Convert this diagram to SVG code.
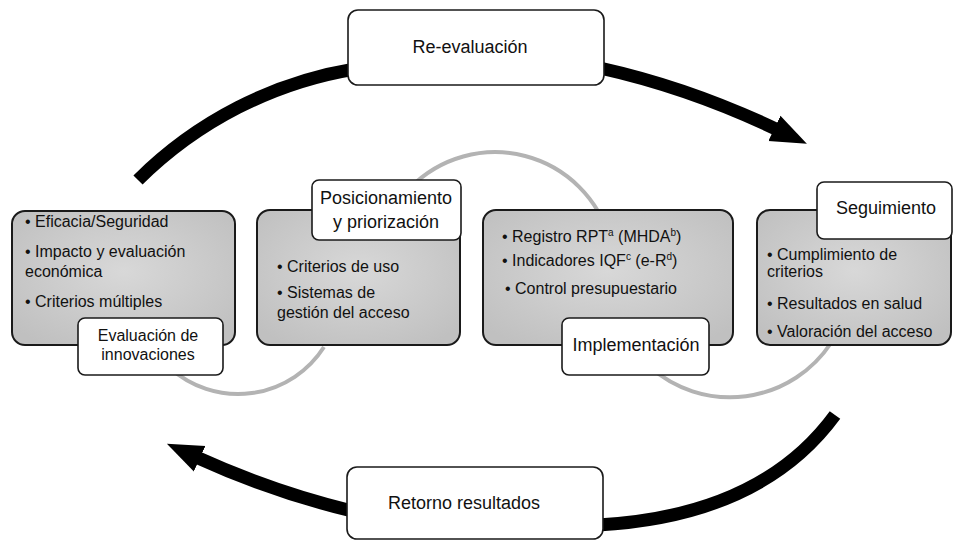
<svg xmlns="http://www.w3.org/2000/svg" width="959" height="541" viewBox="0 0 959 541">
<defs>
<radialGradient id="gfill" cx="50%" cy="45%" r="65%">
<stop offset="0" stop-color="#d8d8d8"/>
<stop offset="1" stop-color="#c0c0c0"/>
</radialGradient>
<marker id="ah" markerUnits="userSpaceOnUse" markerWidth="38" markerHeight="32" refX="4" refY="16" orient="auto" viewBox="0 0 38 32">
<path d="M0,2 L36,16 L0,30 Z" fill="#000"/>
</marker>
<style>
text{font-family:"Liberation Sans",Arial,sans-serif;fill:#111}
.bul{font-size:16px}
.lab{font-size:18px;text-anchor:middle}
.lab16{font-size:16px;text-anchor:middle}
.gbox{fill:url(#gfill);stroke:#1a1a1a;stroke-width:2}
.wbox{fill:#fff;stroke:#1a1a1a;stroke-width:1.6}
.big{fill:none;stroke:#000;stroke-width:13;stroke-linecap:butt}
.thin{fill:none;stroke:#b3b3b3;stroke-width:4}
.sup{font-size:10px}
</style>
</defs>
<rect width="959" height="541" fill="#fff"/>
<g id="connectors">
<path class="big" d="M138,180 A400,400 0 0 1 355,69"/>
<path class="big" d="M600,68 Q690,88 778,130" marker-end="url(#ah)"/>
<path class="big" d="M835,415 Q761,516 598,525"/>
<path class="big" d="M352,511 Q273,492 196,457" marker-end="url(#ah)"/>
<path class="thin" d="M170,368 A102,102 0 0 0 324,347"/>
<path class="thin" d="M410,188 A119,119 0 0 1 610,240"/>
<path class="thin" d="M650,367 A121,121 0 0 0 831,343"/>
</g>
<g id="reevaluacion">
<rect class="wbox" x="348" y="10" width="256" height="75" rx="10"/>
<text class="lab" x="470" y="53">Re-evaluación</text>
</g>
<g id="retorno">
<rect class="wbox" x="347" y="467" width="256" height="72" rx="10"/>
<text class="lab" x="464" y="509">Retorno resultados</text>
</g>
<g id="evaluacion">
<rect class="gbox" x="12" y="211" width="223" height="134" rx="13"/>
<text class="bul" x="25" y="227">• Eficacia/Seguridad</text>
<text class="bul" x="25" y="257">• Impacto y evaluación</text>
<text class="bul" x="25" y="277">económica</text>
<text class="bul" x="25" y="307">• Criterios múltiples</text>
<rect class="wbox" x="78" y="318" width="145" height="57" rx="7"/>
<text class="lab16" x="148" y="341">Evaluación de</text>
<text class="lab16" x="148" y="360">innovaciones</text>
</g>
<g id="posicionamiento">
<rect class="gbox" x="257" y="210" width="203" height="135" rx="13"/>
<text class="bul" x="277" y="272">• Criterios de uso</text>
<text class="bul" x="277" y="298">• Sistemas de</text>
<text class="bul" x="277" y="318">gestión del acceso</text>
<rect class="wbox" x="312" y="180" width="149" height="60" rx="7"/>
<text class="lab" x="386" y="204">Posicionamiento</text>
<text class="lab" x="386" y="228">y priorización</text>
</g>
<g id="implementacion">
<rect class="gbox" x="483" y="210" width="250" height="135" rx="13"/>
<text class="bul" x="502" y="242">• Registro RPT<tspan class="sup" dy="-6">a</tspan><tspan dy="6"> (MHDA</tspan><tspan class="sup" dy="-6">b</tspan><tspan dy="6">)</tspan></text>
<text class="bul" x="502" y="266">• Indicadores IQF<tspan class="sup" dy="-6">c</tspan><tspan dy="6"> (e-R</tspan><tspan class="sup" dy="-6">d</tspan><tspan dy="6">)</tspan></text>
<text class="bul" x="505" y="294">• Control presupuestario</text>
<rect class="wbox" x="562" y="318" width="147" height="57" rx="7"/>
<text class="lab" x="636" y="351">Implementación</text>
</g>
<g id="seguimiento">
<rect class="gbox" x="757" y="210" width="194" height="135" rx="13"/>
<text class="bul" x="767" y="260">• Cumplimiento de</text>
<text class="bul" x="767" y="277">criterios</text>
<text class="bul" x="767" y="309">• Resultados en salud</text>
<text class="bul" x="767" y="337">• Valoración del acceso</text>
<rect class="wbox" x="817" y="182" width="135" height="57" rx="7"/>
<text class="lab" x="886" y="214">Seguimiento</text>
</g>
</svg>
